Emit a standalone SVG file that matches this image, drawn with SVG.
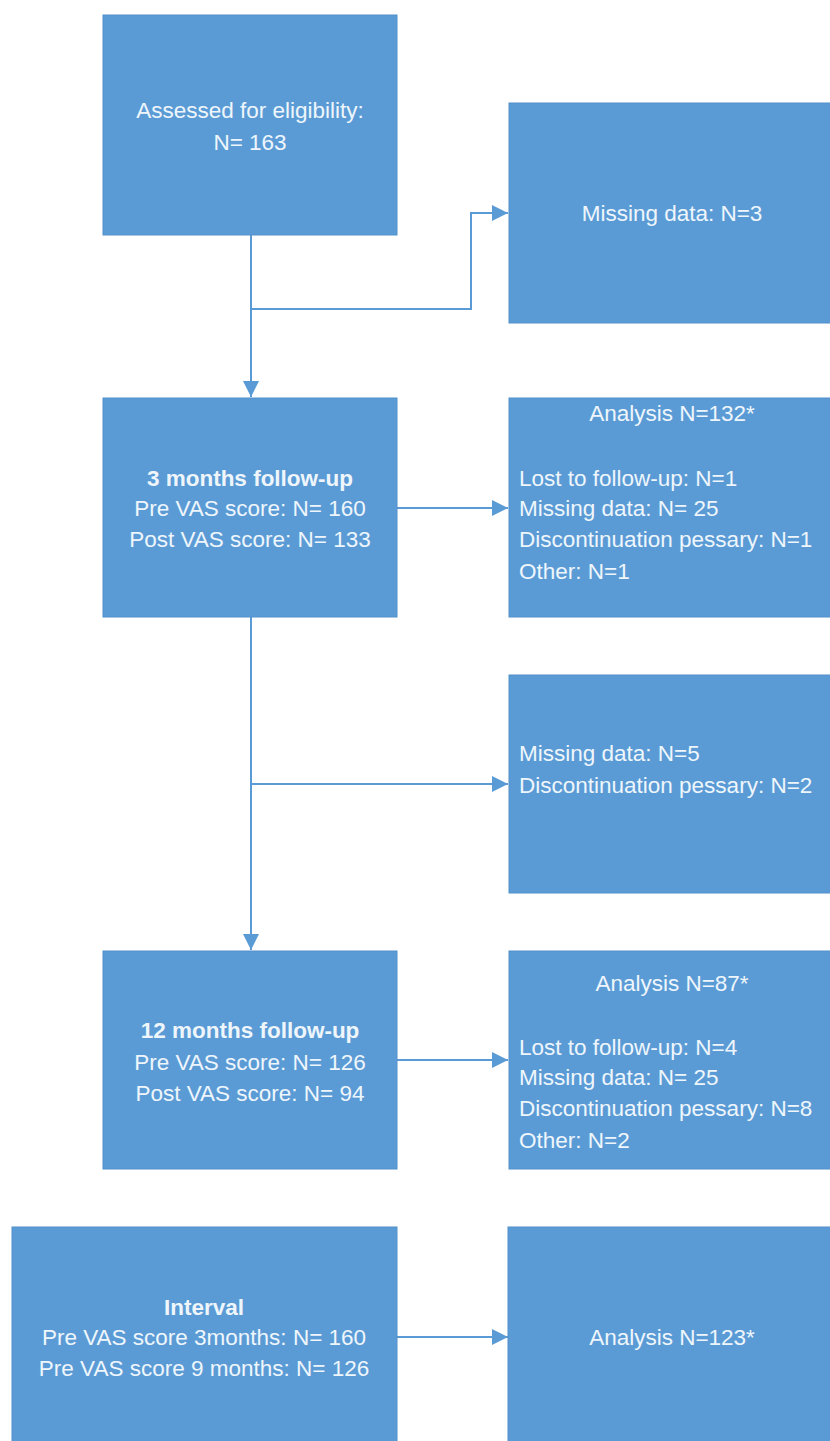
<svg xmlns="http://www.w3.org/2000/svg" width="830" height="1441" viewBox="0 0 830 1441">
<style>
.box{fill:#5b9bd5;stroke:#5290cc;stroke-width:1}
.t{font-family:"Liberation Sans",Arial,sans-serif;font-size:22.5px;fill:#eef6fc}
.c{text-anchor:middle}
.b{font-weight:bold}
.conn{fill:none;stroke:#5b9bd5;stroke-width:2}
</style>
<defs>
<marker id="arr" markerUnits="userSpaceOnUse" markerWidth="18" markerHeight="18" viewBox="0 0 18 18" refX="17" refY="9" orient="auto">
<path d="M1,1 L17,9 L1,17 Z" fill="#5b9bd5"/>
</marker>
</defs>
<rect width="830" height="1441" fill="#ffffff"/>
<g id="connectors">
<path class="conn" d="M251,235 V397" marker-end="url(#arr)"/>
<path class="conn" d="M251,309 H471 V213 H508" marker-end="url(#arr)"/>
<path class="conn" d="M397,508 H508" marker-end="url(#arr)"/>
<path class="conn" d="M251,617 V950" marker-end="url(#arr)"/>
<path class="conn" d="M251,784 H508" marker-end="url(#arr)"/>
<path class="conn" d="M397,1060 H508" marker-end="url(#arr)"/>
<path class="conn" d="M397,1337 H508" marker-end="url(#arr)"/>
</g>
<g id="n-eligibility">
<rect class="box" x="103" y="15" width="294" height="220"/>
<text class="t c" x="250" y="118">Assessed for eligibility:</text>
<text class="t c" x="250" y="150">N= 163</text>
</g>
<g id="n-missing1">
<rect class="box" x="509" y="103" width="330" height="220"/>
<text class="t c" x="672" y="221">Missing data: N=3</text>
</g>
<g id="n-3months">
<rect class="box" x="103" y="398" width="294" height="219"/>
<text class="t c b" x="250" y="486">3 months follow-up</text>
<text class="t c" x="250" y="516">Pre VAS score: N= 160</text>
<text class="t c" x="250" y="547">Post VAS score: N= 133</text>
</g>
<g id="n-analysis132">
<rect class="box" x="509" y="398" width="330" height="219"/>
<text class="t c" x="672" y="421">Analysis N=132*</text>
<text class="t" x="519" y="486">Lost to follow-up: N=1</text>
<text class="t" x="519" y="516">Missing data: N= 25</text>
<text class="t" x="519" y="547">Discontinuation pessary: N=1</text>
<text class="t" x="519" y="579">Other: N=1</text>
</g>
<g id="n-missing2">
<rect class="box" x="509" y="675" width="330" height="218"/>
<text class="t" x="519" y="761">Missing data: N=5</text>
<text class="t" x="519" y="793">Discontinuation pessary: N=2</text>
</g>
<g id="n-12months">
<rect class="box" x="103" y="951" width="294" height="218"/>
<text class="t c b" x="250" y="1038">12 months follow-up</text>
<text class="t c" x="250" y="1070">Pre VAS score: N= 126</text>
<text class="t c" x="250" y="1101">Post VAS score: N= 94</text>
</g>
<g id="n-analysis87">
<rect class="box" x="509" y="951" width="330" height="218"/>
<text class="t c" x="672" y="991">Analysis N=87*</text>
<text class="t" x="519" y="1055">Lost to follow-up: N=4</text>
<text class="t" x="519" y="1085">Missing data: N= 25</text>
<text class="t" x="519" y="1116">Discontinuation pessary: N=8</text>
<text class="t" x="519" y="1148">Other: N=2</text>
</g>
<g id="n-interval">
<rect class="box" x="12" y="1227" width="385" height="230"/>
<text class="t c b" x="204" y="1315">Interval</text>
<text class="t c" x="204" y="1345">Pre VAS score 3months: N= 160</text>
<text class="t c" x="204" y="1376">Pre VAS score 9 months: N= 126</text>
</g>
<g id="n-analysis123">
<rect class="box" x="508" y="1227" width="330" height="230"/>
<text class="t c" x="672" y="1345">Analysis N=123*</text>
</g>
</svg>
